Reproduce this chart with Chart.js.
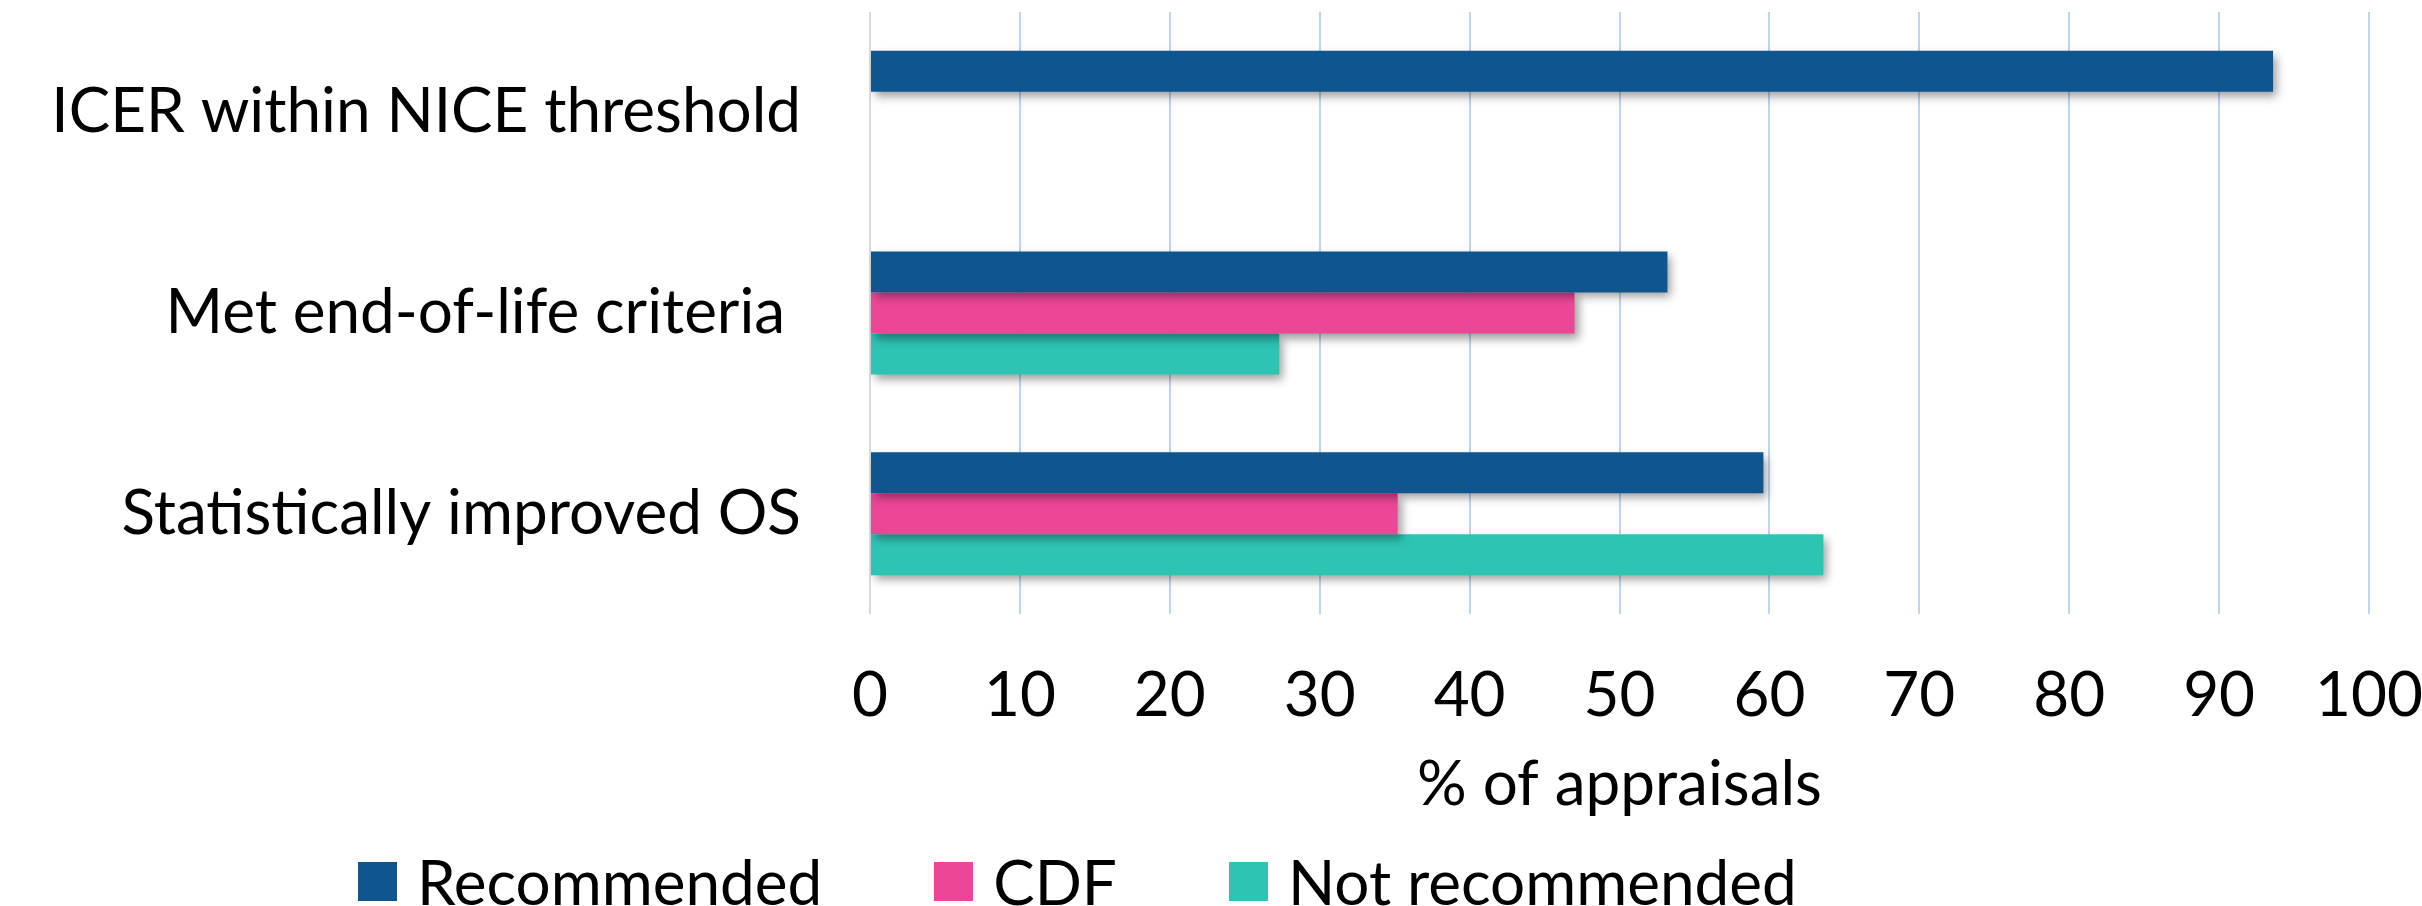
<!DOCTYPE html>
<html>
<head>
<meta charset="utf-8">
<script src="https://cdn.jsdelivr.net/npm/chart.js@4.4.4/dist/chart.umd.min.js"></script>
<style>
  html, body { margin: 0; padding: 0; background: #fff; }
  #wrap { position: relative; width: 2422px; height: 906px; overflow: hidden; }
  #legend { position: absolute; left: 358px; top: 844px; display: flex; align-items: center;
            font-family: Lato, sans-serif; font-size: 62px; color: #000; white-space: nowrap; }
  #legend .item { display: flex; align-items: center; margin-right: 112px; }
  #legend .box { width: 39px; height: 39px; margin-right: 20px; }
</style>
</head>
<body>
<div id="wrap">
  <canvas id="chart" width="2422" height="906"></canvas>
  <div id="legend"></div>
</div>
<script>
// criteria (top to bottom)
const categories = ['ICER within NICE threshold', 'Met end-of-life criteria ', 'Statistically improved OS'];
// % of appraisals
const recommended    = [93.6, 53.2, 59.6];
const cdf            = [null, 47.0, 35.2];
const notRecommended = [null, 27.3, 63.6];
const seriesNames = ['Recommended', 'CDF', 'Not recommended'];
const xTicks = [0, 10, 20, 30, 40, 50, 60, 70, 80, 90, 100];

const colors = ['#0F558E', '#EC4698', '#2EC4B4'];
const FONT = 'Lato, "Open Sans", sans-serif';
const FS = 62;

Chart.defaults.font.family = FONT;
Chart.defaults.color = '#000';

// soft drop shadow under the bars, like the office chart
const barShadow = {
  id: 'barShadow',
  beforeDatasetsDraw(chart) {
    const c = chart.ctx;
    c.save();
    c.shadowColor = 'rgba(0,0,0,0.38)';
    c.shadowBlur = 9;
    c.shadowOffsetX = 4;
    c.shadowOffsetY = 5;
  },
  afterDatasetsDraw(chart) { chart.ctx.restore(); }
};

const chart = new Chart(document.getElementById('chart'), {
  type: 'bar',
  data: {
    labels: categories,
    datasets: [recommended, cdf, notRecommended].map((d, i) => ({
      label: seriesNames[i], data: d, backgroundColor: colors[i], borderWidth: 0,
      categoryPercentage: 0.613, barPercentage: 1
    }))
  },
  options: {
    indexAxis: 'y',
    responsive: false,
    devicePixelRatio: 1,
    animation: false,
    layout: { padding: { top: 12, right: 53, bottom: 0, left: 0 } },
    plugins: { legend: { display: false }, tooltip: { enabled: false } },
    scales: {
      x: {
        min: 0, max: 100,
        afterBuildTicks: (s) => { s.ticks = xTicks.map(v => ({ value: v })); },
        afterFit: (s) => { s.height = 292; s.paddingLeft = 0; s.paddingRight = 0; },
        grid: { color: (c) => c.index === 0 ? '#D9D9D9' : '#BDD7EE', lineWidth: 2, drawTicks: false },
        border: { display: false },
        ticks: { font: { size: FS }, padding: 45, maxRotation: 0 },
        title: { display: true, text: '% of appraisals', font: { size: FS }, padding: { top: 0, bottom: 84 } }
      },
      y: {
        afterFit: (s) => { s.width = 870; s.paddingTop = 0; s.paddingBottom = 0; },
        grid: { display: false },
        border: { display: false },
        ticks: { font: { size: FS }, padding: 61 }
      }
    }
  },
  plugins: [barShadow]
});

// legend built from the chart's own legend items
const legendEl = document.getElementById('legend');
chart.options.plugins.legend.labels.generateLabels(chart).forEach(it => {
  const item = document.createElement('div');
  item.className = 'item';
  const box = document.createElement('span');
  box.className = 'box';
  box.style.background = it.fillStyle;
  const txt = document.createElement('span');
  txt.textContent = it.text;
  item.appendChild(box); item.appendChild(txt);
  legendEl.appendChild(item);
});
</script>
</body>
</html>
